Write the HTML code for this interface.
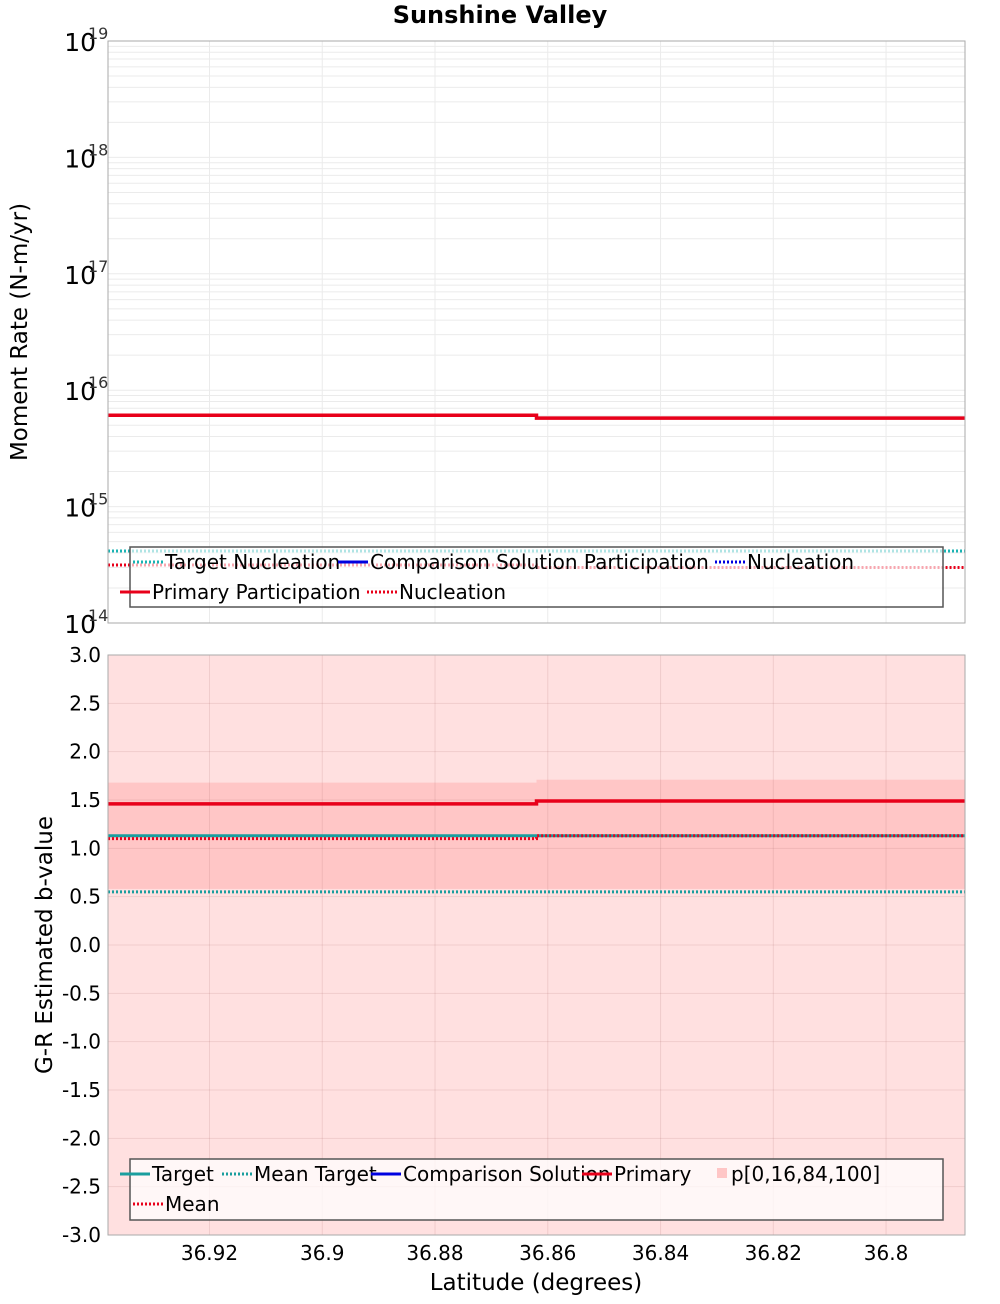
<!DOCTYPE html>
<html><head><meta charset="utf-8"><style>
body{margin:0;background:#fff;font-family:"DejaVu Sans","Liberation Sans",sans-serif}
svg text{font-family:"DejaVu Sans","Liberation Sans",sans-serif}
</style></head><body>
<svg id="c" width="1000" height="1300" xmlns="http://www.w3.org/2000/svg">
<text x="500" y="23" text-anchor="middle" font-size="24" font-weight="bold">Sunshine Valley</text>
</svg>
<script>
const xTicks=[36.92,36.9,36.88,36.86,36.84,36.82,36.8];
const binEdges=[36.938,36.862,36.786];
const primaryPart=[6.1e15,5.75e15];
const primaryNucl=[3.15e14,3.0e14];
const targetNucl=[4.15e14,4.15e14];
const topTicks=[14,15,16,17,18,19];
const bTicks=[3,2.5,2,1.5,1,0.5,0,-0.5,-1,-1.5,-2,-2.5,-3];
const bPrimary=[1.46,1.49];
const bMean=[1.10,1.13];
const bTarget=[1.13,1.13];
const bMeanTarget=[0.55,0.55];
const bP16=[0.58,0.58];
const bP84=[1.68,1.71];
const bP0=[-3.5,-3.5];
const bP100=[3.5,3.5];

const svg=document.getElementById('c');const NS='http://www.w3.org/2000/svg';
function el(t,a,name,p){const e=document.createElementNS(NS,t);for(const k in a)e.setAttribute(k,a[k]);


(p||svg).appendChild(e);return e;}
const L=108,R=965;
const X=v=>L+(binEdges[0]-v)/(binEdges[0]-binEdges[2])*(R-L);
const T0=41,T1=623;const YT=v=>T1-(Math.log10(v)-14)/5*(T1-T0);
const B0=655,B1=1235;const YB=v=>B0+(3-v)/6*(B1-B0);
function fmt(v){return String(v);}
el('rect',{x:L,y:T0,width:R-L,height:T1-T0,fill:'#fff'},'top-plot-area');
for(let d=14;d<19;d++)for(let m=1;m<10;m++){const y=YT(m*Math.pow(10,d));el('line',{x1:L,x2:R,y1:y,y2:y,stroke:'#ebebeb'},'top-grid-line');}
xTicks.forEach(t=>el('line',{x1:X(t),x2:X(t),y1:T0,y2:T1,stroke:'#ebebeb'},'top-grid-v'));
topTicks.forEach(t=>{const y=YT(Math.pow(10,t));const g=el('text',{x:96,y:y+10,'text-anchor':'end','font-size':25},'top-y-tick');g.textContent='10';
const s=el('text',{x:88,y:y-2,'font-size':16,fill:'#333'},'top-y-tick-exp');s.textContent=t;});
function step(vals,Y,attrs,name){let d='';vals.forEach((v,i)=>{const y=Y(v);d+=(i?'L':'M')+X(binEdges[i])+','+y+'L'+X(binEdges[i+1])+','+y;});return el('path',Object.assign({d:d,fill:'none'},attrs),name);}
step(targetNucl,YT,{stroke:'#1ab3b3','stroke-width':3,'stroke-dasharray':'2,2'},'target-nucleation-line');
step(primaryNucl,YT,{stroke:'#e8001a','stroke-width':3,'stroke-dasharray':'2,2'},'primary-nucleation-line');
step(primaryPart,YT,{stroke:'#e8001a','stroke-width':3.5},'primary-participation-line');
el('rect',{x:L,y:T0,width:R-L,height:T1-T0,fill:'none',stroke:'#aaa'},'top-plot-border');
const lg=el('g',{},'top-legend');
el('rect',{x:130,y:547,width:813,height:60,fill:'rgba(255,255,255,0.65)',stroke:'#555','stroke-width':1.5},'top-legend-box',lg);
function li(x,y,col,dash,label,name,p){el('line',{x1:x,x2:x+30,y1:y,y2:y,stroke:col,'stroke-width':3,'stroke-dasharray':dash||''},name+'-swatch',p);const t=el('text',{x:x+32,y:y+7,'font-size':20},name+'-label',p);t.textContent=label;}
li(133,562,'#1ab3b3','2,2','Target Nucleation','legend-target-nucleation',lg);
li(338,562,'#0000e0','','Comparison Solution Participation','legend-comparison-participation',lg);
li(715,562,'#0000e0','2,2','Nucleation','legend-comparison-nucleation',lg);
li(120,592,'#e8001a','','Primary Participation','legend-primary-participation',lg);
li(367,592,'#e8001a','2,2','Nucleation','legend-primary-nucleation',lg);
const yl=el('text',{x:27,y:332,'font-size':23,'text-anchor':'middle',transform:'rotate(-90 27 332)'},'top-y-axis-title');yl.textContent='Moment Rate (N-m/yr)';
el('rect',{x:L,y:B0,width:R-L,height:B1-B0,fill:'#fff'},'bottom-plot-area');
function band(lo,hi,col,name){binEdges.slice(0,-1).forEach((e,i)=>{const y1=YB(Math.min(3,hi[i])),y2=YB(Math.max(-3,lo[i]));el('rect',{x:X(e),y:y1,width:X(binEdges[i+1])-X(e),height:y2-y1,fill:col},name);});}
band(bP0,bP100,'#ffe0e0','band-p0-p100');
band(bP16,bP84,'#ffc6c6','band-p16-p84');
bTicks.forEach(t=>{const y=YB(t);el('line',{x1:L,x2:R,y1:y,y2:y,stroke:'rgba(180,120,120,0.2)'},'bottom-grid-h');const s=el('text',{x:101,y:y+7,'text-anchor':'end','font-size':20},'bottom-y-tick');s.textContent=t.toFixed(1);});
xTicks.forEach(t=>{el('line',{x1:X(t),x2:X(t),y1:B0,y2:B1,stroke:'rgba(180,120,120,0.2)'},'bottom-grid-v');const s=el('text',{x:X(t),y:1260,'text-anchor':'middle','font-size':20},'x-tick');s.textContent=fmt(t);});
step(bMeanTarget,YB,{stroke:'#1a9e9e','stroke-width':3,'stroke-dasharray':'2,2'},'mean-target-line');
step(bTarget,YB,{stroke:'#1a9e9e','stroke-width':3},'target-line');
step(bMean,YB,{stroke:'#e8001a','stroke-width':3,'stroke-dasharray':'2,2'},'mean-line');
step(bPrimary,YB,{stroke:'#e8001a','stroke-width':3.5},'primary-line');
el('rect',{x:L,y:B0,width:R-L,height:B1-B0,fill:'none',stroke:'#aaa'},'bottom-plot-border');
const lg2=el('g',{},'bottom-legend');
el('rect',{x:130,y:1159,width:813,height:61,fill:'rgba(255,255,255,0.75)',stroke:'#555','stroke-width':1.5},'bottom-legend-box',lg2);
li(120,1174,'#1a9e9e','','Target','legend-target',lg2);
li(222,1174,'#1a9e9e','2,2','Mean Target','legend-mean-target',lg2);
li(371,1174,'#0000e0','','Comparison Solution','legend-comparison',lg2);
li(582,1174,'#e8001a','','Primary','legend-primary',lg2);
el('rect',{x:717,y:1168,width:10,height:10,fill:'#ffc6c6'},'legend-band-swatch',lg2);
const bt=el('text',{x:731,y:1181,'font-size':20},'legend-band-label',lg2);bt.textContent='p[0,16,84,100]';
li(133,1204,'#e8001a','2,2','Mean','legend-mean',lg2);
const yl2=el('text',{x:52,y:945,'font-size':23,'text-anchor':'middle',transform:'rotate(-90 52 945)'},'bottom-y-axis-title');yl2.textContent='G-R Estimated b-value';
const xl=el('text',{x:536,y:1290,'font-size':23,'text-anchor':'middle'},'x-axis-title');xl.textContent='Latitude (degrees)';
</script>
</body></html>
